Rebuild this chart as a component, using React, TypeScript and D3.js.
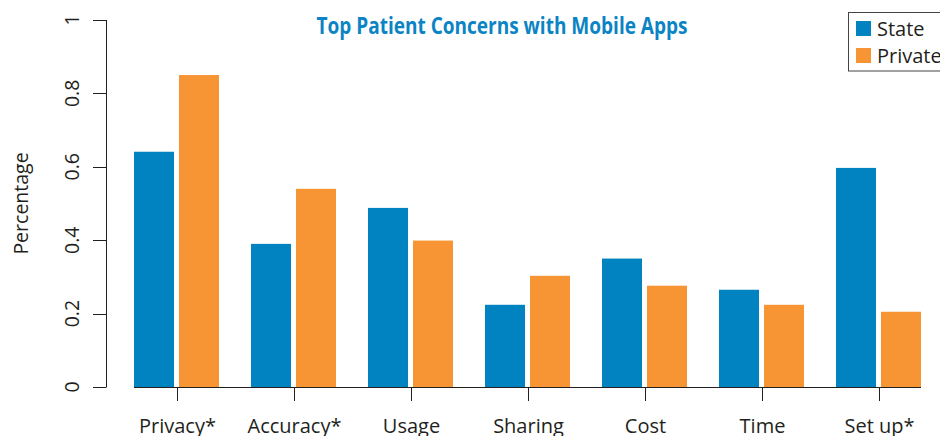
import React from "react";
import * as d3 from "d3";

const categories = ["Privacy*", "Accuracy*", "Usage", "Sharing", "Cost", "Time", "Set up*"];
const seriesNames = ["State", "Private"];
const stateValues = [0.641, 0.39, 0.488, 0.224, 0.35, 0.265, 0.597];
const privateValues = [0.85, 0.54, 0.399, 0.303, 0.276, 0.224, 0.205];
const yTicks = [0, 0.2, 0.4, 0.6, 0.8, 1];
const yTickLabels = ["0", "0.2", "0.4", "0.6", "0.8", "1"];
const title = "Top Patient Concerns with Mobile Apps";
const yLabel = "Percentage";

const colors = ["#0083C0", "#F79433"];
const textColor = "#231F20";
const font = "'Open Sans', sans-serif";

export default function App() {
  const W = 940, H = 436;
  const x = d3.scaleBand<string>().domain(categories).range([118, 937]).paddingInner(32 / 117).paddingOuter(16 / 117);
  const xs = d3.scaleBand<string>().domain(seriesNames).range([0, x.bandwidth()]).paddingInner(5 / 45).paddingOuter(0);
  const y = d3.scaleLinear().domain([0, 1]).range([387, 20]);
  const series = [stateValues, privateValues];
  const xFirst = x(categories[0])!;
  const xLast = x(categories[categories.length - 1])! + x.bandwidth();
  const axisX = 106.5;

  return (
    <svg width={W} height={H} style={{ position: "absolute", left: 0, top: 0, background: "#fff" }} fontFamily={font}>
      {/* bars */}
      {categories.map((c, i) => (
        <g key={c} transform={`translate(${x(c)},0)`}>
          {seriesNames.map((s, j) => (
            <rect key={s} x={xs(s)} y={y(series[j][i])} width={xs.bandwidth()} height={y(0) - y(series[j][i])} fill={colors[j]} />
          ))}
        </g>
      ))}
      {/* y axis */}
      <line x1={axisX} x2={axisX} y1={y(1)} y2={y(0)} stroke={textColor} strokeWidth={1} />
      {yTicks.map((t, i) => (
        <g key={t}>
          <line x1={93} x2={axisX} y1={Math.round(y(t)) + 0.5} y2={Math.round(y(t)) + 0.5} stroke={textColor} strokeWidth={1} />
          <text transform={`translate(79,${y(t)}) rotate(-90)`} textAnchor="middle" fontSize={19.5} fill={textColor}>{yTickLabels[i]}</text>
        </g>
      ))}
      <text transform={`translate(28,${(y(0) + y(1)) / 2}) rotate(-90)`} textAnchor="middle" fontSize={19.5} fill={textColor}>{yLabel}</text>
      {/* x axis */}
      <line x1={xFirst} x2={xLast} y1={387.5} y2={387.5} stroke={textColor} strokeWidth={1} />
      {categories.map((c) => {
        const cx = Math.round(x(c)! + x.bandwidth() / 2) + 0.5;
        return (
          <g key={c}>
            <line x1={cx} x2={cx} y1={387.5} y2={401} stroke={textColor} strokeWidth={1} />
            <text x={cx} y={433} textAnchor="middle" fontSize={20} fill={textColor}>{c}</text>
          </g>
        );
      })}
      {/* title */}
      <text x={502} y={34} textAnchor="middle" fontSize={23.5} fontWeight="bold" fill="#0A84C4" textLength={371} lengthAdjust="spacingAndGlyphs">{title}</text>
      {/* legend */}
      <rect x={848.5} y={12.5} width={100} height={58.5} fill="#fff" stroke="#444" strokeWidth={1} />
      {seriesNames.map((s, j) => (
        <g key={s}>
          <rect x={856} y={21 + j * 27} width={15} height={15} fill={colors[j]} />
          <text x={877} y={36 + j * 27} fontSize={20} fill={textColor}>{s}</text>
        </g>
      ))}
    </svg>
  );
}
